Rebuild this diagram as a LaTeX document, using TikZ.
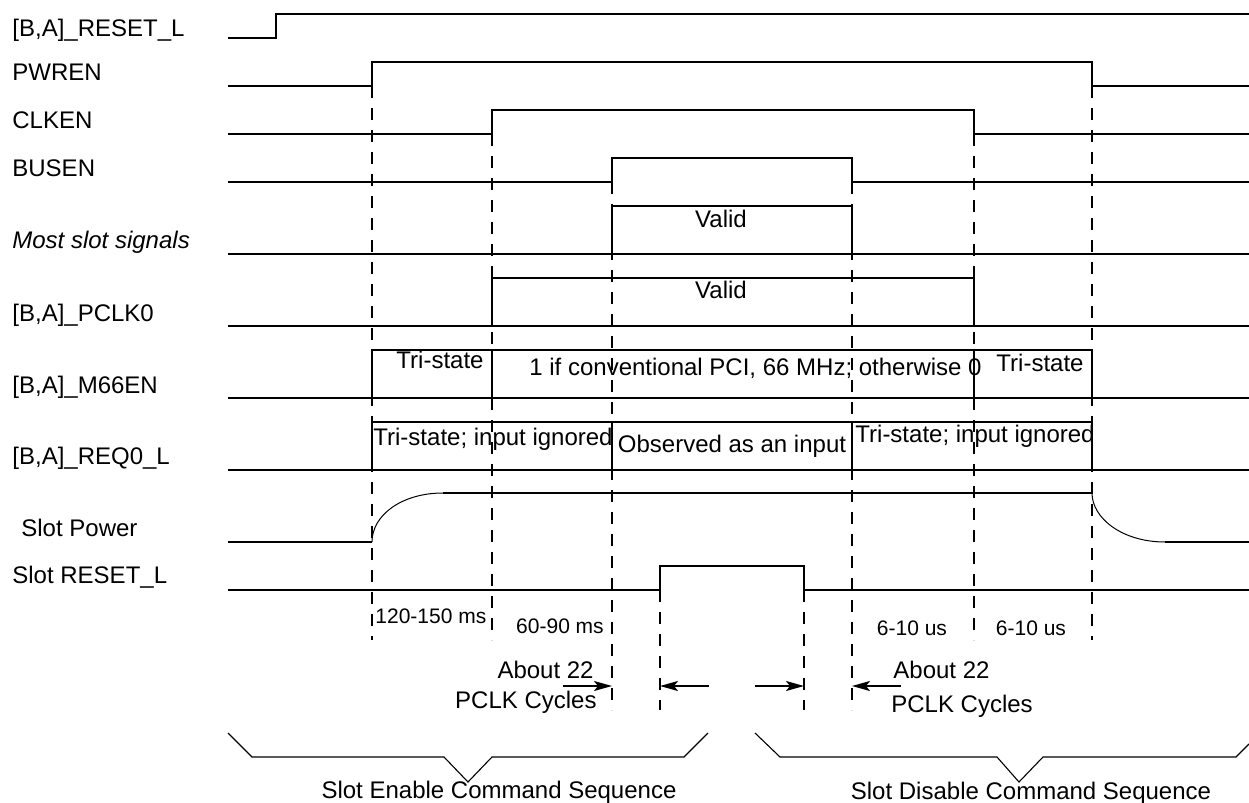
\documentclass[tikz,border=0pt]{standalone}
\usepackage{fontspec}
\setmainfont{Liberation Sans}
\usetikzlibrary{arrows.meta}
\begin{document}
\begin{tikzpicture}[x=0.5pt, y=-0.5pt, font=\fontsize{12}{14}\selectfont]
  \tikzstyle{wave}=[line width=0.9pt, line join=miter]
  \tikzstyle{ramp}=[line width=0.5pt]
  \tikzstyle{guide}=[line width=0.85pt, dash pattern=on 6pt off 5pt]
  \tikzstyle{lbl}=[anchor=base west, inner sep=0pt]
  \tikzstyle{txt}=[anchor=base, inner sep=0pt]
  \tikzstyle{dur}=[txt, font=\fontsize{10.5}{12}\selectfont]
  \tikzstyle{gap}=[line width=0.9pt, -{Stealth[length=9pt, width=5pt, inset=2pt]}]
  \tikzstyle{bracket}=[line width=0.55pt]

  \useasboundingbox (0,0) rectangle (1249,803);

  % signal names
  \node[lbl] (rst) at (12,36) {[B,A]\_RESET\_L};
  \node[lbl] (pwren) at (12,80) {PWREN};
  \node[lbl] (clken) at (12,128) {CLKEN};
  \node[lbl] (busen) at (12,176) {BUSEN};
  \node[lbl] (most) at (12,248) {\itshape Most slot signals};
  \node[lbl] (pclk) at (12,321) {[B,A]\_PCLK0};
  \node[lbl] (m66) at (12,393) {[B,A]\_M66EN};
  \node[lbl] (req) at (12,464) {[B,A]\_REQ0\_L};
  \node[lbl] (pwr) at (21,536) {Slot Power};
  \node[lbl] (srst) at (12,583) {Slot RESET\_L};

  % waveforms
  \draw[wave] (228,38) -- (276,38) -- (276,14) -- (1249,14);
  \draw[wave] (228,86) -- (372,86) -- (372,62) -- (1092,62) -- (1092,86) -- (1249,86);
  \draw[wave] (228,134) -- (492,134) -- (492,110) -- (974,110) -- (974,134) -- (1249,134);
  \draw[wave] (228,182) -- (612,182) -- (612,158) -- (852,158) -- (852,182) -- (1249,182);

  \draw[wave] (228,254) -- (1249,254);
  \draw[wave] (612,254) -- (612,206) -- (852,206) -- (852,254);

  \draw[wave] (228,326) -- (1249,326);
  \draw[wave] (492,326) -- (492,278) -- (974,278) -- (974,326);

  \draw[wave] (228,398) -- (1249,398);
  \draw[wave] (372,398) -- (372,350) -- (1092,350) -- (1092,398);
  \draw[wave] (492,350) -- (492,398) (974,350) -- (974,398);

  \draw[wave] (228,470) -- (1249,470);
  \draw[wave] (372,470) -- (372,422) -- (1092,422) -- (1092,470);
  \draw[wave] (612,422) -- (612,470) (852,422) -- (852,470);

  \draw[wave] (228,542) -- (372,542);
  \draw[ramp] (372,542) .. controls (372,515) and (402,493) .. (443,493);
  \draw[wave] (443,493) -- (1092,493);
  \draw[ramp] (1092,493) .. controls (1092,518) and (1122,542) .. (1165,542);
  \draw[wave] (1165,542) -- (1249,542);

  \draw[wave] (228,590) -- (660,590) -- (660,566) -- (804,566) -- (804,590) -- (1249,590);

  % timing guides
  \foreach \x/\ya/\yb in {372/86/640, 492/134/640, 612/182/710, 852/182/710,
                          974/134/640, 1092/86/640, 660/590/710, 804/590/710}
    \draw[guide] (\x,\ya) -- (\x,\yb);

  % field values
  \node[txt] (v1) at (721,227) {Valid};
  \node[txt] (v2) at (721,298) {Valid};
  \node[txt] (ts1) at (440,368) {Tri-state};
  \node[lbl] (conv) at (529,375) {1 if conventional PCI, 66 MHz; otherwise 0};
  \node[txt] (ts2) at (1040,371) {Tri-state};
  \node[lbl] (ign1) at (373,445) {Tri-state; input ignored};
  \node[txt] (obs) at (732,452) {Observed as an input};
  \node[lbl] (ign2) at (855,442) {Tri-state; input ignored};

  % durations
  \node[dur, anchor=base west] (d1) at (375,623) {120-150 ms};
  \node[dur] (d2) at (560,633) {60-90 ms};
  \node[dur] (d3) at (912,635) {6-10 us};
  \node[dur] (d4) at (1031,635) {6-10 us};

  \node[txt, anchor=base east] (ab1) at (594,678) {About 22};
  \node[txt, anchor=base east] (pc1) at (597,708) {PCLK Cycles};
  \node[lbl] (ab2) at (893,678) {About 22};
  \node[lbl] (pc2) at (891,712) {PCLK Cycles};

  % cycle arrows
  \coordinate (a1s) at (563,686);  \coordinate (a1e) at (612,686);
  \coordinate (a2s) at (709,686);  \coordinate (a2e) at (660,686);
  \coordinate (a3s) at (755,686);  \coordinate (a3e) at (804,686);
  \coordinate (a4s) at (901,686);  \coordinate (a4e) at (852,686);
  \draw[gap] (a1s) -- (a1e);
  \draw[gap] (a2s) -- (a2e);
  \draw[gap] (a3s) -- (a3e);
  \draw[gap] (a4s) -- (a4e);

  % command sequences
  \draw[bracket] (228,733) -- (252,757) -- (444,757) -- (468,782) -- (492,757) -- (684,757) -- (708,733);
  \draw[bracket] (755,733) -- (780,757) -- (997,757) -- (1019,782) -- (1043,757) -- (1236,757) -- (1249,744);
  \node[txt] (seq1) at (499,798) {Slot Enable Command Sequence};
  \node[txt] (seq2) at (1031,799) {Slot Disable Command Sequence};
\end{tikzpicture}
\end{document}
